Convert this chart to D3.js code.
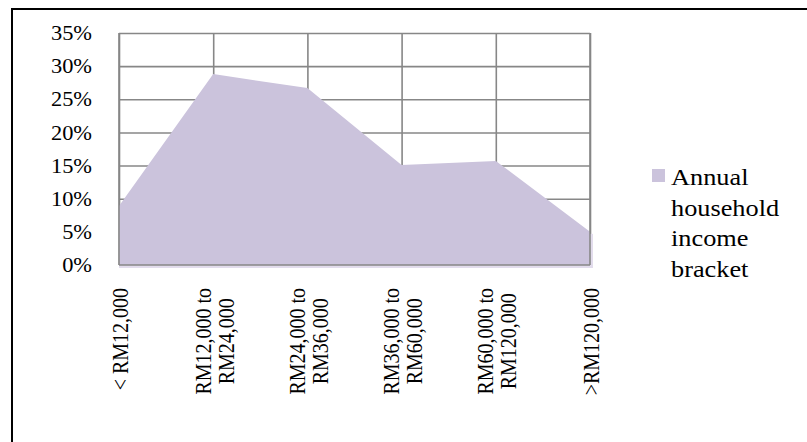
<!DOCTYPE html>
<html>
<head>
<meta charset="utf-8">
<script src="https://cdn.jsdelivr.net/npm/d3@7"></script>
<style>
  body { margin: 0; background: #fff; }
  text { font-family: "Liberation Serif", "Times New Roman", serif; fill: #000; }
</style>
</head>
<body>
<div id="main"></div>
<script>
// data
const categories = ["lt12", "12to24", "24to36", "36to60", "60to120", "gt120"]
const catLabels = [
    ["< RM12,000"],
    ["RM12,000 to", "RM24,000"],
    ["RM24,000 to", "RM36,000"],
    ["RM36,000 to", "RM60,000"],
    ["RM60,000 to", "RM120,000"],
    [">RM120,000"]
]
const shares = [0.089, 0.288, 0.267, 0.151, 0.157, 0.050]
const yTicks = [0, 0.05, 0.10, 0.15, 0.20, 0.25, 0.30, 0.35]
const legendLines = ["Annual", "household", "income", "bracket"]

function drawChart() {
    let W = 807, H = 442
    let margin = {top: 33, left: 119, right: 217, bottom: 177}
    let pxX = W - margin.left - margin.right,
        pxY = H - margin.top - margin.bottom
    let stretch = 1.12
    let fillCol = "#cbc3dc", gridCol = "#878787"

    let svg = d3.select("#main").append("svg")
        .attr("width", W)
        .attr("height", H)

    // outer frame, runs off the right and bottom edges
    svg.append("rect")
        .attr("x", 12).attr("y", 9)
        .attr("width", W + 20).attr("height", H + 20)
        .attr("fill", "none").attr("stroke", "#000").attr("stroke-width", 2)

    let g = svg.append("g")
        .attr("transform", `translate(${margin.left} ${margin.top})`)

    let scX = d3.scalePoint().domain(categories).range([0, pxX]).padding(0)
    let scY = d3.scaleLinear().domain([0, 0.35]).range([pxY, 0])

    // grid lines
    g.append("g")
        .call(d3.axisLeft(scY).tickValues(yTicks).tickSize(-pxX).tickFormat(""))
        .call(ax => ax.select(".domain").remove())
        .selectAll("line").attr("stroke", gridCol).attr("stroke-width", 1.6)
    g.append("g")
        .call(d3.axisBottom(scX).tickSize(pxY).tickFormat(""))
        .call(ax => ax.select(".domain").remove())
        .selectAll("line").attr("stroke", gridCol).attr("stroke-width", 1.6)

    // faint shadow under the plot
    g.append("rect")
        .attr("x", 0).attr("y", scY(0))
        .attr("width", pxX + 3).attr("height", 3)
        .attr("fill", "#e2dcec")
    g.append("rect")
        .attr("x", pxX).attr("y", scY(shares[shares.length - 1]) + 2)
        .attr("width", 3).attr("height", scY(0) - scY(shares[shares.length - 1]))
        .attr("fill", "#e2dcec")

    let area = d3.area()
        .x((d, i) => scX(categories[i]))
        .y0(scY(0))
        .y1(d => scY(d))
    g.append("path")
        .attr("d", area(shares))
        .attr("fill", fillCol)

    // frame lines drawn over the area
    g.append("line").attr("x1", 0).attr("x2", 0).attr("y1", 0).attr("y2", pxY)
        .attr("stroke", gridCol).attr("stroke-width", 1.6)
    g.append("line").attr("x1", pxX).attr("x2", pxX).attr("y1", 0).attr("y2", pxY)
        .attr("stroke", gridCol).attr("stroke-width", 1.6)
    g.append("line").attr("x1", 0).attr("x2", pxX).attr("y1", pxY).attr("y2", pxY)
        .attr("stroke", gridCol).attr("stroke-width", 1.6)

    // y axis labels
    let yAx = g.append("g")
        .call(d3.axisLeft(scY).tickValues(yTicks).tickSize(0).tickPadding(0)
            .tickFormat(d3.format(".0%")))
    yAx.select(".domain").remove()
    yAx.selectAll("text")
        .attr("font-size", 20)
        .attr("x", -27 / stretch)
        .attr("dy", "0.33em")
        .attr("transform", `scale(${stretch},1)`)

    // x labels, rotated and stacked
    let lh = 20.5
    categories.forEach((c, idx) => {
        let lines = catLabels[idx]
        let lg = g.append("g")
            .attr("transform", `translate(${scX(c) + 1} ${pxY + 23}) scale(${stretch},1) rotate(-90)`)
        let texts = lines.map((t, i) => lg.append("text")
            .attr("font-size", 20)
            .attr("text-anchor", "middle")
            .attr("y", (i - (lines.length - 1) / 2) * lh + 7)
            .text(t))
        let L = d3.max(texts, t => t.node().getComputedTextLength())
        texts.forEach(t => t.attr("x", -L / 2))
    })

    // legend
    svg.append("rect")
        .attr("x", 652).attr("y", 169)
        .attr("width", 13).attr("height", 13)
        .attr("fill", fillCol)
    legendLines.forEach((t, i) => {
        svg.append("text")
            .attr("transform", `translate(671 ${185 + i * 30.5}) scale(${stretch},1)`)
            .attr("font-size", 23.5)
            .text(t)
    })
}
drawChart()
</script>
</body>
</html>
